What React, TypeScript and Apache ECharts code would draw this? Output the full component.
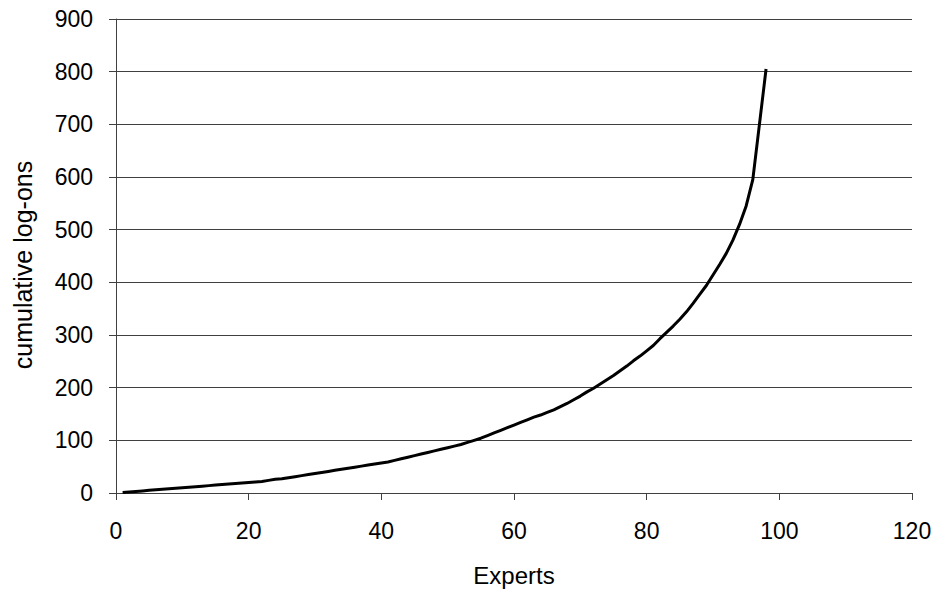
import React, { useEffect, useRef } from "react";
import * as echarts from "echarts";

const experts: number[] = Array.from({ length: 98 }, (_, i) => i + 1);
const cumulativeLogOns: number[] = [
  1, 2, 3, 4, 5, 6, 7, 8, 9, 10,
  11, 12, 13, 14, 15, 16, 17, 18, 19, 20,
  21, 22, 24, 26, 27, 29, 31, 33, 35, 37,
  39, 41, 43, 45, 47, 49, 51, 53, 55, 57,
  59, 62, 65, 68, 71, 74, 77, 80, 83, 86,
  89, 92, 96, 100, 104, 109, 114, 119, 124, 129,
  134, 139, 144, 148, 153, 158, 164, 170, 177, 184,
  192, 199, 207, 215, 223, 232, 241, 251, 260, 270,
  280, 293, 305, 317, 330, 344, 360, 377, 394, 414,
  434, 455, 480, 510, 545, 595, 700, 805,
];
const xAxisTitle = "Experts";
const yAxisTitle = "cumulative log-ons";

const FONT = "'Liberation Sans', Arial, sans-serif";

export default function App() {
  const ref = useRef<HTMLDivElement>(null);
  useEffect(() => {
    if (!ref.current) return;
    const chart = echarts.init(ref.current, undefined, { renderer: "svg" });
    chart.setOption({
      animation: false,
      backgroundColor: "#ffffff",
      grid: { left: 116, right: 28, top: 19, bottom: 107, containLabel: false },
      graphic: [
        {
          type: "text",
          x: 23,
          y: 265,
          rotation: Math.PI / 2,
          style: {
            text: yAxisTitle,
            fontFamily: FONT,
            fontSize: 25,
            fill: "#000",
            align: "center",
            verticalAlign: "middle",
          },
        },
      ],
      xAxis: {
        type: "value",
        min: 0,
        max: 120,
        interval: 20,
        name: xAxisTitle,
        nameLocation: "middle",
        nameGap: 70,
        nameTextStyle: { fontFamily: FONT, fontSize: 24, color: "#000" },
        axisLine: { show: true, lineStyle: { color: "#404040", width: 1 } },
        axisTick: { show: true, length: 7, lineStyle: { color: "#404040" } },
        axisLabel: { fontFamily: FONT, fontSize: 23, color: "#000", margin: 26 },
        splitLine: { show: false },
      },
      yAxis: {
        type: "value",
        min: 0,
        max: 900,
        interval: 100,
        axisLine: { show: true, lineStyle: { color: "#404040", width: 1 } },
        axisTick: { show: true, length: 7, lineStyle: { color: "#404040" } },
        axisLabel: { fontFamily: FONT, fontSize: 23, color: "#000", margin: 23 },
        splitLine: { show: true, lineStyle: { color: "#404040", width: 1 } },
      },
      series: [
        {
          type: "line",
          data: experts.map((x, i) => [x, cumulativeLogOns[i]]),
          showSymbol: false,
          symbol: "none",
          lineStyle: { color: "#000", width: 3 },
        },
      ],
    });
    return () => chart.dispose();
  }, []);
  return (
    <div
      ref={ref}
      style={{ position: "absolute", left: 0, top: 0, width: 940, height: 600 }}
    />
  );
}
